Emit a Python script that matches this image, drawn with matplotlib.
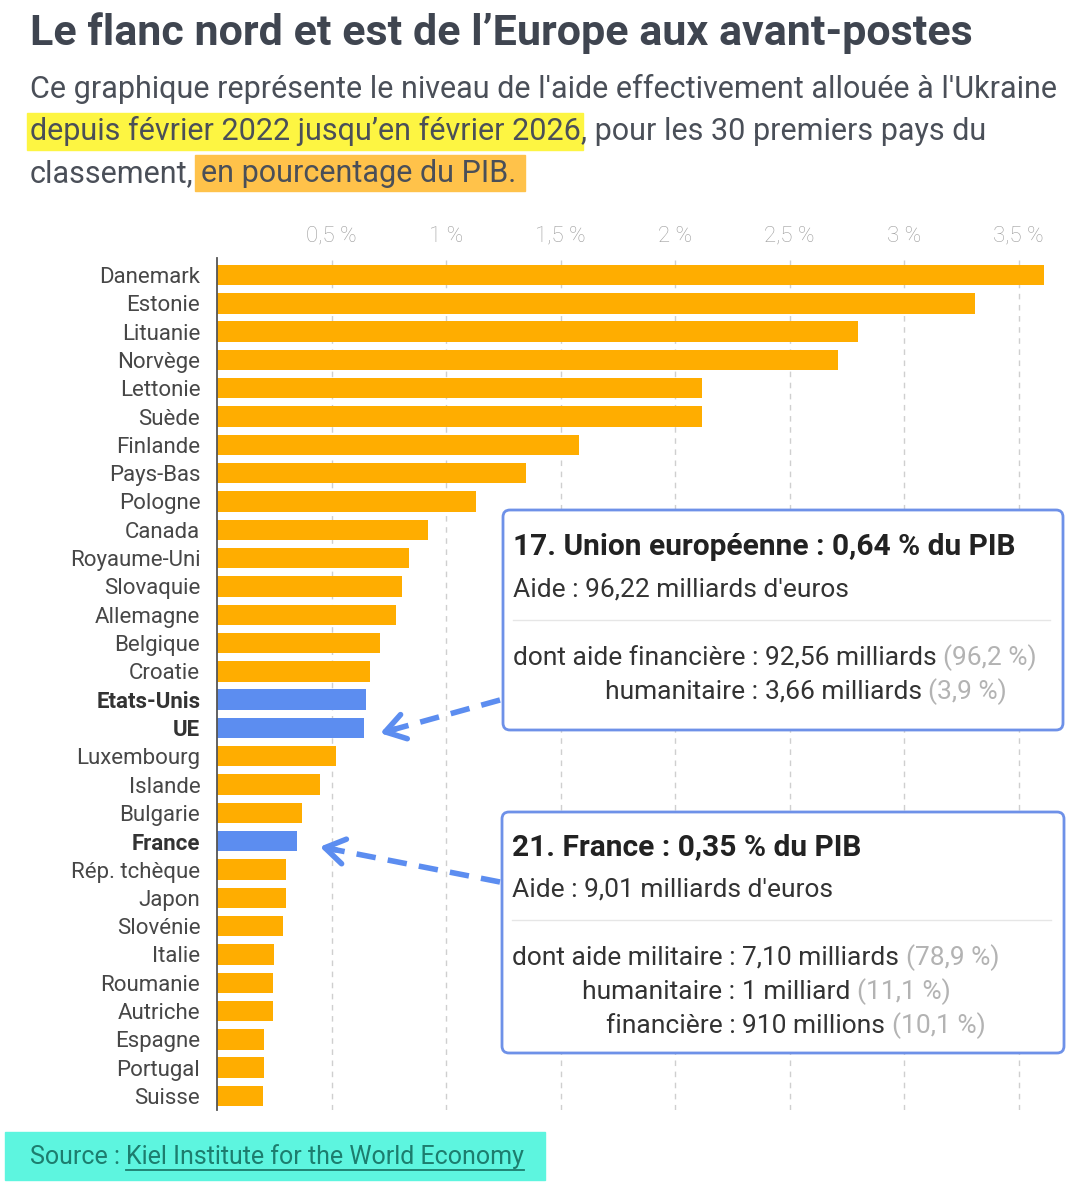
import numpy as np
import matplotlib.pyplot as plt
from matplotlib.patches import FancyBboxPatch, Rectangle

countries = ["Danemark", "Estonie", "Lituanie", "Norvège", "Lettonie", "Suède",
             "Finlande", "Pays-Bas", "Pologne", "Canada", "Royaume-Uni", "Slovaquie",
             "Allemagne", "Belgique", "Croatie", "Etats-Unis", "UE", "Luxembourg",
             "Islande", "Bulgarie", "France", "Rép. tchèque", "Japon", "Slovénie",
             "Italie", "Roumanie", "Autriche", "Espagne", "Portugal", "Suisse"]
values = [3.61, 3.31, 2.80, 2.71, 2.12, 2.12, 1.58, 1.35, 1.13, 0.92, 0.84, 0.81,
          0.78, 0.71, 0.67, 0.65, 0.64, 0.52, 0.45, 0.37, 0.35, 0.30, 0.30, 0.29,
          0.25, 0.245, 0.245, 0.205, 0.205, 0.20]
highlight = ["Etats-Unis", "UE", "France"]
tick_values = [0.5, 1, 1.5, 2, 2.5, 3, 3.5]
tick_labels = ["0,5 %", "1 %", "1,5 %", "2 %", "2,5 %", "3 %", "3,5 %"]

title = "Le flanc nord et est de l’Europe aux avant-postes"
sub1 = "Ce graphique représente le niveau de l'aide effectivement allouée à l'Ukraine"
sub2_hl = "depuis février 2022 jusqu’en février 2026"
sub2 = ", pour les 30 premiers pays du"
sub3 = "classement,"
sub3_hl = "en pourcentage du PIB."

ue_title = "17. Union européenne : 0,64 % du PIB"
ue_total = "Aide : 96,22 milliards d'euros"
ue_rows = [("dont aide financière :", "92,56 milliards", "(96,2 %)"),
           ("humanitaire :", "3,66 milliards", "(3,9 %)")]
fr_title = "21. France : 0,35 % du PIB"
fr_total = "Aide : 9,01 milliards d'euros"
fr_rows = [("dont aide militaire :", "7,10 milliards", "(78,9 %)"),
           ("humanitaire :", "1 milliard", "(11,1 %)"),
           ("financière :", "910 millions", "(10,1 %)")]
source_lbl = "Source :"
source_name = "Kiel Institute for the World Economy"

ORANGE = "#FFAD00"
BLUE = "#5C8DF0"
EDGE = "#6E91E8"
DARK = "#3f4550"

plt.rcParams['font.family'] = ['Roboto', 'DejaVu Sans']

W, H = 1085, 1200
fig = plt.figure(figsize=(W / 100, H / 100), dpi=100)

# bar chart, placed in pixel coords
row = 28.31
top_px = 275 - 0.6 * row
bot_px = 1096 + 0.5 * row
ax = fig.add_axes([217 / W, 1 - bot_px / H, (1064 - 217) / W, (bot_px - top_px) / H])
y = np.arange(len(countries))
colors = [BLUE if c in highlight else ORANGE for c in countries]
ax.barh(y, values, height=0.72, color=colors, zorder=2)
ax.set_ylim(len(countries) - 0.5, -0.6)
ax.set_xlim(0, (1064 - 217) / 229)
ax.set_xticks(tick_values)
ax.set_xticklabels(tick_labels)
ax.xaxis.tick_top()
ax.tick_params(axis='x', length=0, colors='#9e9e9e', labelsize=16, pad=8)
for t in ax.get_xticklabels():
    t.set_fontweight('light')
ax.grid(axis='x', ls=(0, (4, 4)), color='#cfcfcf', lw=1, zorder=0)
ax.set_yticks(y)
ax.set_yticklabels(countries)
ax.tick_params(axis='y', length=0, pad=12, labelsize=16, colors='#474747')
for t, c in zip(ax.get_yticklabels(), countries):
    if c in highlight:
        t.set_fontweight('bold')
        t.set_color('#333333')
for s in ['top', 'right', 'bottom']:
    ax.spines[s].set_visible(False)
ax.spines['left'].set_color('#555555')
ax.spines['left'].set_linewidth(1.3)
ax.spines['left'].set_zorder(3)

# overlay in image pixel coords
ov = fig.add_axes([0, 0, 1, 1], zorder=5)
ov.set_xlim(0, W)
ov.set_ylim(H, 0)
ov.axis('off')
r = fig.canvas.get_renderer()


def width(t):
    return t.get_window_extent(r).width


def space(size, weight='normal'):
    a = ov.text(0, 0, "x x", fontsize=size, fontweight=weight)
    b = ov.text(0, 0, "xx", fontsize=size, fontweight=weight)
    w = width(a) - width(b)
    a.remove()
    b.remove()
    return w


# title and subtitle
ov.text(30, 45, title, fontsize=31, fontweight='bold', color=DARK)
SUB = 22
SC = '#4a4f58'
sp = space(SUB)
ov.text(30, 98, sub1, fontsize=SUB, color=SC)
t = ov.text(30, 140, sub2_hl, fontsize=SUB, color=SC, zorder=3)
w = width(t)
ov.add_patch(Rectangle((27, 113), w + 5, 37, color='#FDF542', zorder=1))
ov.text(30 + w, 140, sub2, fontsize=SUB, color=SC)
t = ov.text(30, 182, sub3, fontsize=SUB, color=SC)
x = 30 + width(t) + sp
t = ov.text(x, 182, sub3_hl, fontsize=SUB, color=SC, zorder=3)
ov.add_patch(Rectangle((x - 6, 155), width(t) + 14, 36, color='#FFC24A', zorder=1))

BT = 19


def info_box(x0, y0, x1, y1, head, total, rows, base):
    ov.add_patch(FancyBboxPatch((x0, y0), x1 - x0, y1 - y0,
                                boxstyle="round,pad=0,rounding_size=7",
                                fc='white', ec=EDGE, lw=2, zorder=2))
    tx = x0 + 10
    ov.text(tx, base, head, fontsize=21.5, fontweight='bold', color='#222222', zorder=3)
    ov.text(tx, base + 42, total, fontsize=BT, color='#333333', zorder=3)
    ov.plot([tx, x1 - 13], [base + 65, base + 65], color='#e6e6e6', lw=1, zorder=3)
    s = space(BT)
    first = ov.text(tx, base + 110, rows[0][0], fontsize=BT, color='#333333', zorder=3)
    colon = tx + width(first)
    for i, (lab, val, pct) in enumerate(rows):
        yy = base + 110 + i * 34
        if i > 0:
            ov.text(colon, yy, lab, fontsize=BT, color='#333333', ha='right', zorder=3)
        v = ov.text(colon + s, yy, val, fontsize=BT, color='#333333', zorder=3)
        ov.text(colon + s + width(v) + s, yy, pct, fontsize=BT, color='#b3b3b3', zorder=3)


info_box(503, 510, 1063, 730, ue_title, ue_total, ue_rows, 555)
info_box(502, 812, 1064, 1053, fr_title, fr_total, fr_rows, 855)


def to_px(xv, yv):
    d = ax.transData.transform((xv, yv))
    return d[0], H - d[1]


def dashed_arrow(start, tip):
    sx, sy = start
    tx, ty = tip
    v = np.array([sx - tx, sy - ty])
    v = v / np.hypot(*v)
    mid = (tx + v[0] * 14, ty + v[1] * 14)
    ov.plot([sx, mid[0]], [sy, mid[1]], color=BLUE, lw=4, ls=(0, (3.5, 2.2)),
            solid_capstyle='butt', zorder=1)
    ov.annotate('', xy=(tx, ty), xytext=(tx + v[0] * 22, ty + v[1] * 22),
                arrowprops=dict(arrowstyle='->,head_length=1.4,head_width=0.9',
                                color=BLUE, lw=4), zorder=1)


iu = countries.index("UE")
ifr = countries.index("France")
bx, by = to_px(values[iu], iu)
dashed_arrow((500, 700), (bx + 14, by + 6))
bx, by = to_px(values[ifr], ifr)
dashed_arrow((500, 882), (bx + 20, by + 5))

# source
SS = 18
ov.add_patch(Rectangle((5, 1132), 540, 48, color='#5DF5DF', zorder=1))
t = ov.text(30, 1164, source_lbl, fontsize=SS, color='#1d7d6e', zorder=2)
x = 30 + width(t) + space(SS)
t = ov.text(x, 1164, source_name, fontsize=SS, color='#1d7d6e', zorder=2)
ov.plot([x, x + width(t)], [1170, 1170], color='#1d7d6e', lw=1.3, zorder=2)

fig.savefig("out.png", dpi=100)
